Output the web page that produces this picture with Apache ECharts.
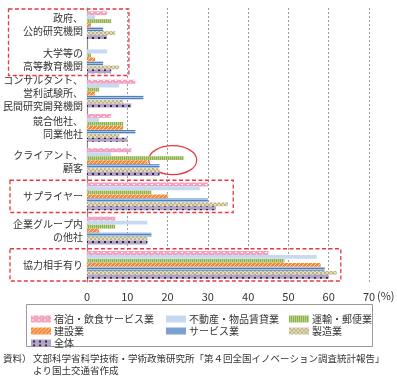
<!DOCTYPE html>
<html><head><meta charset="utf-8">
<script src="https://cdn.jsdelivr.net/npm/echarts@6/dist/echarts.min.js"></script>
<style>html,body{margin:0;padding:0;background:#fff}#c{width:397px;height:380px}</style>
</head><body><div id="c"></div>
<script>
const categories = ['政府、\n公的研究機関','大学等の\n高等教育機関','コンサルタント、\n営利試験所、\n民間研究開発機関','競合他社、\n同業他社','クライアント、\n顧客','サプライヤー','企業グループ内\nの他社','協力相手有り'];
const seriesNames = ['宿泊・飲食サービス業','不動産・物品賃貸業','運輸・郵便業','建設業','サービス業','製造業','全体'];
const accommodation = [5, 0, 12, 6, 11, 30, 7, 45];
const realEstate    = [2, 5, 8, 3, 6, 28, 15, 57];
const transport     = [6, 1, 3, 9, 24, 16, 7, 49];
const construction  = [1, 2, 2, 9, 15, 20, 3, 58];
const services      = [4, 4, 14, 12, 18, 30, 16, 59];
const manufacturing = [7, 8, 9, 8, 18, 35, 15, 62];
const total         = [5, 6, 11, 10, 18, 32, 15, 60];
const xTicks = [0, 10, 20, 30, 40, 50, 60, 70];
const values = [accommodation, realEstate, transport, construction, services, manufacturing, total];

function pat(w, h, draw) {
  const c = document.createElement('canvas'); c.width = w; c.height = h;
  const g = c.getContext('2d'); draw(g);
  return { image: c, repeat: 'repeat' };
}
const patterns = [
  pat(6, 4, g => { g.fillStyle = '#F3A2C2'; g.fillRect(0,0,6,4); g.fillStyle = '#fff'; g.fillRect(1,0,2,1); g.fillStyle='#F9D3E2'; g.fillRect(4,2,1,1); }),
  pat(2, 2, g => { g.fillStyle = '#C6D9F0'; g.fillRect(0,0,2,2); }),
  pat(2, 2, g => { g.fillStyle = '#8DB04A'; g.fillRect(0,0,1,2); g.fillStyle = '#BBD38A'; g.fillRect(1,0,1,2); }),
  pat(4, 4, g => { g.fillStyle = '#F5893A'; g.fillRect(0,0,4,4); g.fillStyle = '#FCD3AE'; for (let i=0;i<4;i++) g.fillRect(i,3-i,1,1); }),
  pat(2, 2, g => { g.fillStyle = '#4F81BD'; g.fillRect(0,0,2,1); g.fillStyle = '#A7C2E4'; g.fillRect(0,1,2,1); }),
  pat(4, 4, g => { g.fillStyle = '#E4DDBD'; g.fillRect(0,0,4,4); g.fillStyle = '#BFB486'; for (let i=0;i<4;i++){ g.fillRect(i,i,1,1); g.fillRect(i,(3-i+2)%4,1,1);} }),
  pat(6, 4, g => { g.fillStyle = '#B3A1CB'; g.fillRect(0,0,6,4); g.fillStyle = '#2a2a2a'; g.fillRect(2,1,2,2); })
];

const chart = echarts.init(document.getElementById('c'), null, { renderer: 'canvas' });
const FONT = '"Noto Sans CJK JP", "Noto Sans", sans-serif';

const series = seriesNames.map((name, i) => ({
  name, type: 'bar', data: values[i],
  barWidth: 3.9, barGap: '2%',
  itemStyle: { color: patterns[i] },
  emphasis: { disabled: true }, animation: false
}));

const legendCommon = {
  orient: 'vertical', itemWidth: 20, itemHeight: 7, itemGap: 0,
  icon: 'rect', selectedMode: false,
  textStyle: { fontFamily: FONT, fontSize: 10, color: '#333', lineHeight: 12, padding: [0,0,0,-2] }
};

const option = {
  animation: false,
  textStyle: { fontFamily: FONT },
  grid: { left: 85.5, right: 28, top: 8, height: 274 },
  legend: [
    Object.assign({ left: 26, top: 308, data: [seriesNames[0], seriesNames[3], seriesNames[6]] }, legendCommon),
    Object.assign({ left: 161, top: 308, data: [seriesNames[1], seriesNames[4]] }, legendCommon),
    Object.assign({ left: 284, top: 308, data: [seriesNames[2], seriesNames[5]] }, legendCommon)
  ],
  xAxis: {
    type: 'value', min: xTicks[0], max: xTicks[xTicks.length-1], interval: 10,
    axisLine: { show: false }, axisTick: { show: false },
    splitLine: { show: true, lineStyle: { color: '#9a9a9a', type: [2, 2], width: 1 } },
    axisLabel: { fontFamily: FONT, fontSize: 11, color: '#333', margin: 9 }
  },
  yAxis: {
    type: 'category', data: categories, inverse: true,
    axisLine: { show: true, lineStyle: { color: '#8a8a8a', width: 1.2 } },
    axisTick: { show: false },
    axisLabel: { fontFamily: FONT, fontSize: 10, color: '#333', lineHeight: 13, margin: 4, align: 'right' }
  },
  series
};
chart.setOption(option);

// annotations positioned via axis conversion
const px = (x, yi) => chart.convertToPixel({ gridIndex: 0 }, [x, yi]);
const band = px(0, 1)[1] - px(0, 0)[1];
const redDash = { stroke: '#E8383D', fill: 'none', lineWidth: 1.3, lineDash: [4, 2.5] };
function box(x1, yStart, yEnd, xVal) {
  const top = px(0, yStart)[1] - band / 2 + 1;
  const bottom = px(0, yEnd)[1] + band / 2 - 1;
  const right = px(xVal, 0)[0];
  return { type: 'rect', shape: { x: x1, y: top, width: right - x1, height: bottom - top }, style: redDash, silent: true };
}
const ell = px(transport[4], 4);
chart.setOption({
  graphic: [
    box(8.5, 0, 1, 10.4),
    box(10, 5, 5, 36.3),
    box(10, 7, 7, 63),
    { type: 'ellipse', shape: { cx: ell[0] - 11, cy: ell[1] - 2, rx: 24, ry: 14.5 }, style: { stroke: '#E8383D', fill: 'none', lineWidth: 1.2 }, silent: true },
    { type: 'text', left: 377, top: 290, style: { text: '(%)', fontFamily: FONT, fontSize: 11, fill: '#333' } },
    { type: 'rect', shape: { x: 26.5, y: 304.5, width: 346, height: 42 }, style: { stroke: '#9a9a9a', fill: 'none', lineWidth: 1 }, silent: true, z: 0 },
    { type: 'text', left: 3, top: 354, style: { text: '資料）', fontFamily: FONT, fontSize: 9.5, fill: '#333' } },
    { type: 'text', left: 33, top: 354, style: { text: '文部科学省科学技術・学術政策研究所「第４回全国イノベーション調査統計報告」', fontFamily: FONT, fontSize: 9.5, fill: '#333' } },
    { type: 'text', left: 33, top: 366, style: { text: 'より国土交通省作成', fontFamily: FONT, fontSize: 9.5, fill: '#333' } }
  ]
});
</script></body></html>
